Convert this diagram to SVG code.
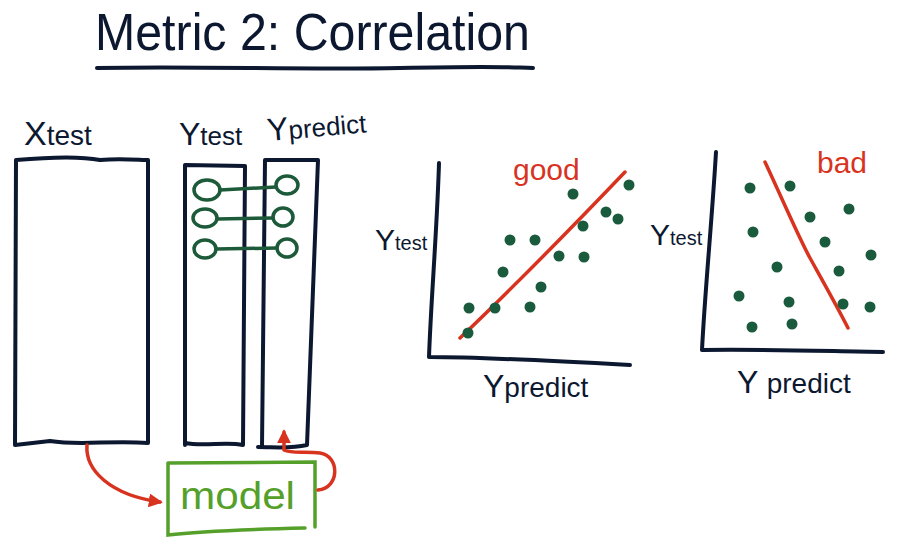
<svg xmlns="http://www.w3.org/2000/svg" width="903" height="541" viewBox="0 0 903 541">
<defs>
<style>
.ink{fill:none;stroke:#0c1830;stroke-width:4;stroke-linecap:round;stroke-linejoin:round}
.lbl{font-family:"Liberation Sans",Arial,sans-serif;fill:#0c1830}
.red{fill:none;stroke:#d8331f;stroke-width:3.5;stroke-linecap:round;stroke-linejoin:round}
.gl{fill:none;stroke:#1d5a3a;stroke-width:3.5;stroke-linecap:round}
.dot{fill:#1b5b3d}
.rt{font-family:"Liberation Sans",Arial,sans-serif;fill:#d8331f}
</style>
<marker id="ah" viewBox="0 0 10 10" refX="8" refY="5" markerWidth="4" markerHeight="4" orient="auto-start-reverse">
<path d="M0,0 L10,5 L0,10 Z" fill="#d8331f"/>
</marker>
</defs>
<rect width="903" height="541" fill="#ffffff"/>

<g id="title">
<text class="lbl" x="95" y="50" font-size="52" textLength="435" lengthAdjust="spacingAndGlyphs">Metric 2: Correlation</text>
<path class="ink" d="M97,68 C200,66 300,70 400,68 S500,67 533,68"/>
</g>

<g id="xtest">
<text class="lbl" x="24" y="145"><tspan font-size="34">X</tspan><tspan font-size="28">test</tspan></text>
<path class="ink" d="M15,445 L16,160 C50,157 80,156 100,160 C120,158 140,160 148,160 L148,443 C110,440 80,446 50,441 L15,445"/>
</g>

<g id="ytest">
<text class="lbl" x="179" y="145"><tspan font-size="32">Y</tspan><tspan font-size="26">test</tspan></text>
<path class="ink" d="M185,445 L185,165 L245,166 L243,445 C225,441 205,447 185,443"/>
</g>

<g id="ypredict">
<text class="lbl" x="268" y="141" transform="rotate(-5 268 141)"><tspan font-size="32">Y</tspan><tspan font-size="26">predict</tspan></text>
<path class="ink" d="M262,447 L265,160 L318,160 L307,445 C290,449 275,447 258,447"/>
</g>

<g id="pairs">
<ellipse class="gl" cx="207" cy="190" rx="13" ry="10"/>
<ellipse class="gl" cx="287" cy="185" rx="11" ry="9"/>
<ellipse class="gl" cx="205" cy="218" rx="12" ry="9"/>
<ellipse class="gl" cx="283" cy="217" rx="10" ry="9"/>
<ellipse class="gl" cx="205" cy="249" rx="11" ry="9"/>
<ellipse class="gl" cx="287" cy="248" rx="10" ry="9"/>
<path class="gl" d="M220,190 L276,187 M217,219 L273,218 M216,249 L277,248"/>
</g>

<g id="model">
<path d="M168,463 L315,462 L315,527 M305,528 C260,529 200,531 168,535 L168,463" fill="none" stroke="#55a02a" stroke-width="3.5" stroke-linecap="round"/>
<text x="180" y="509" font-family="&quot;Liberation Sans&quot;,Arial,sans-serif" font-size="38" fill="#55a02a" textLength="115" lengthAdjust="spacingAndGlyphs">model</text>
</g>

<g id="connectors">
<path class="red" d="M87,445 C85,470 110,495 160,502" marker-end="url(#ah)"/>
<path class="red" d="M318,490 C340,488 340,456 320,453 C305,451 292,454 284,450 L284,432" marker-end="url(#ah)"/>
</g>

<g id="good-plot">
<path class="ink" d="M439,163 C437,230 431,300 429,357 C470,357 520,359 630,365"/>
<text class="lbl" x="375" y="250"><tspan font-size="30">Y</tspan><tspan font-size="20">test</tspan></text>
<text class="lbl" x="483" y="397"><tspan font-size="32">Y</tspan><tspan font-size="28">predict</tspan></text>
<text class="rt" x="513" y="180" font-size="30">good</text>
<path class="red" d="M460,338 C500,300 560,240 625,172"/>
<g class="dot">
<circle cx="468" cy="333" r="5.5"/><circle cx="469" cy="308" r="5.5"/><circle cx="495" cy="308" r="5.5"/>
<circle cx="530" cy="307" r="5.5"/><circle cx="541" cy="287" r="5.5"/><circle cx="503" cy="272" r="5.5"/>
<circle cx="510" cy="240" r="5.5"/><circle cx="535" cy="240" r="5.5"/><circle cx="559" cy="256" r="5.5"/>
<circle cx="584" cy="257" r="5.5"/><circle cx="583" cy="226" r="5.5"/><circle cx="573" cy="194" r="5.5"/>
<circle cx="606" cy="212" r="5.5"/><circle cx="618" cy="219" r="5.5"/><circle cx="629" cy="185" r="5.5"/>
</g>
</g>

<g id="bad-plot">
<path class="ink" d="M716,152 C712,220 705,290 702,350 C760,349 820,351 883,352"/>
<text class="lbl" x="650" y="245"><tspan font-size="30">Y</tspan><tspan font-size="20">test</tspan></text>
<text class="lbl" x="737" y="393"><tspan font-size="32">Y </tspan><tspan font-size="28">predict</tspan></text>
<text class="rt" x="817" y="173" font-size="30">bad</text>
<path class="red" d="M765,162 C785,205 800,240 810,258 C825,285 838,308 848,328"/>
<g class="dot">
<circle cx="750" cy="188" r="5.5"/><circle cx="790" cy="186" r="5.5"/><circle cx="810" cy="217" r="5.5"/>
<circle cx="849" cy="209" r="5.5"/><circle cx="753" cy="232" r="5.5"/><circle cx="825" cy="242" r="5.5"/>
<circle cx="871" cy="255" r="5.5"/><circle cx="777" cy="267" r="5.5"/><circle cx="839" cy="271" r="5.5"/>
<circle cx="739" cy="296" r="5.5"/><circle cx="789" cy="302" r="5.5"/><circle cx="843" cy="304" r="5.5"/>
<circle cx="870" cy="307" r="5.5"/><circle cx="752" cy="327" r="5.5"/><circle cx="792" cy="324" r="5.5"/>
</g>
</g>
</svg>
